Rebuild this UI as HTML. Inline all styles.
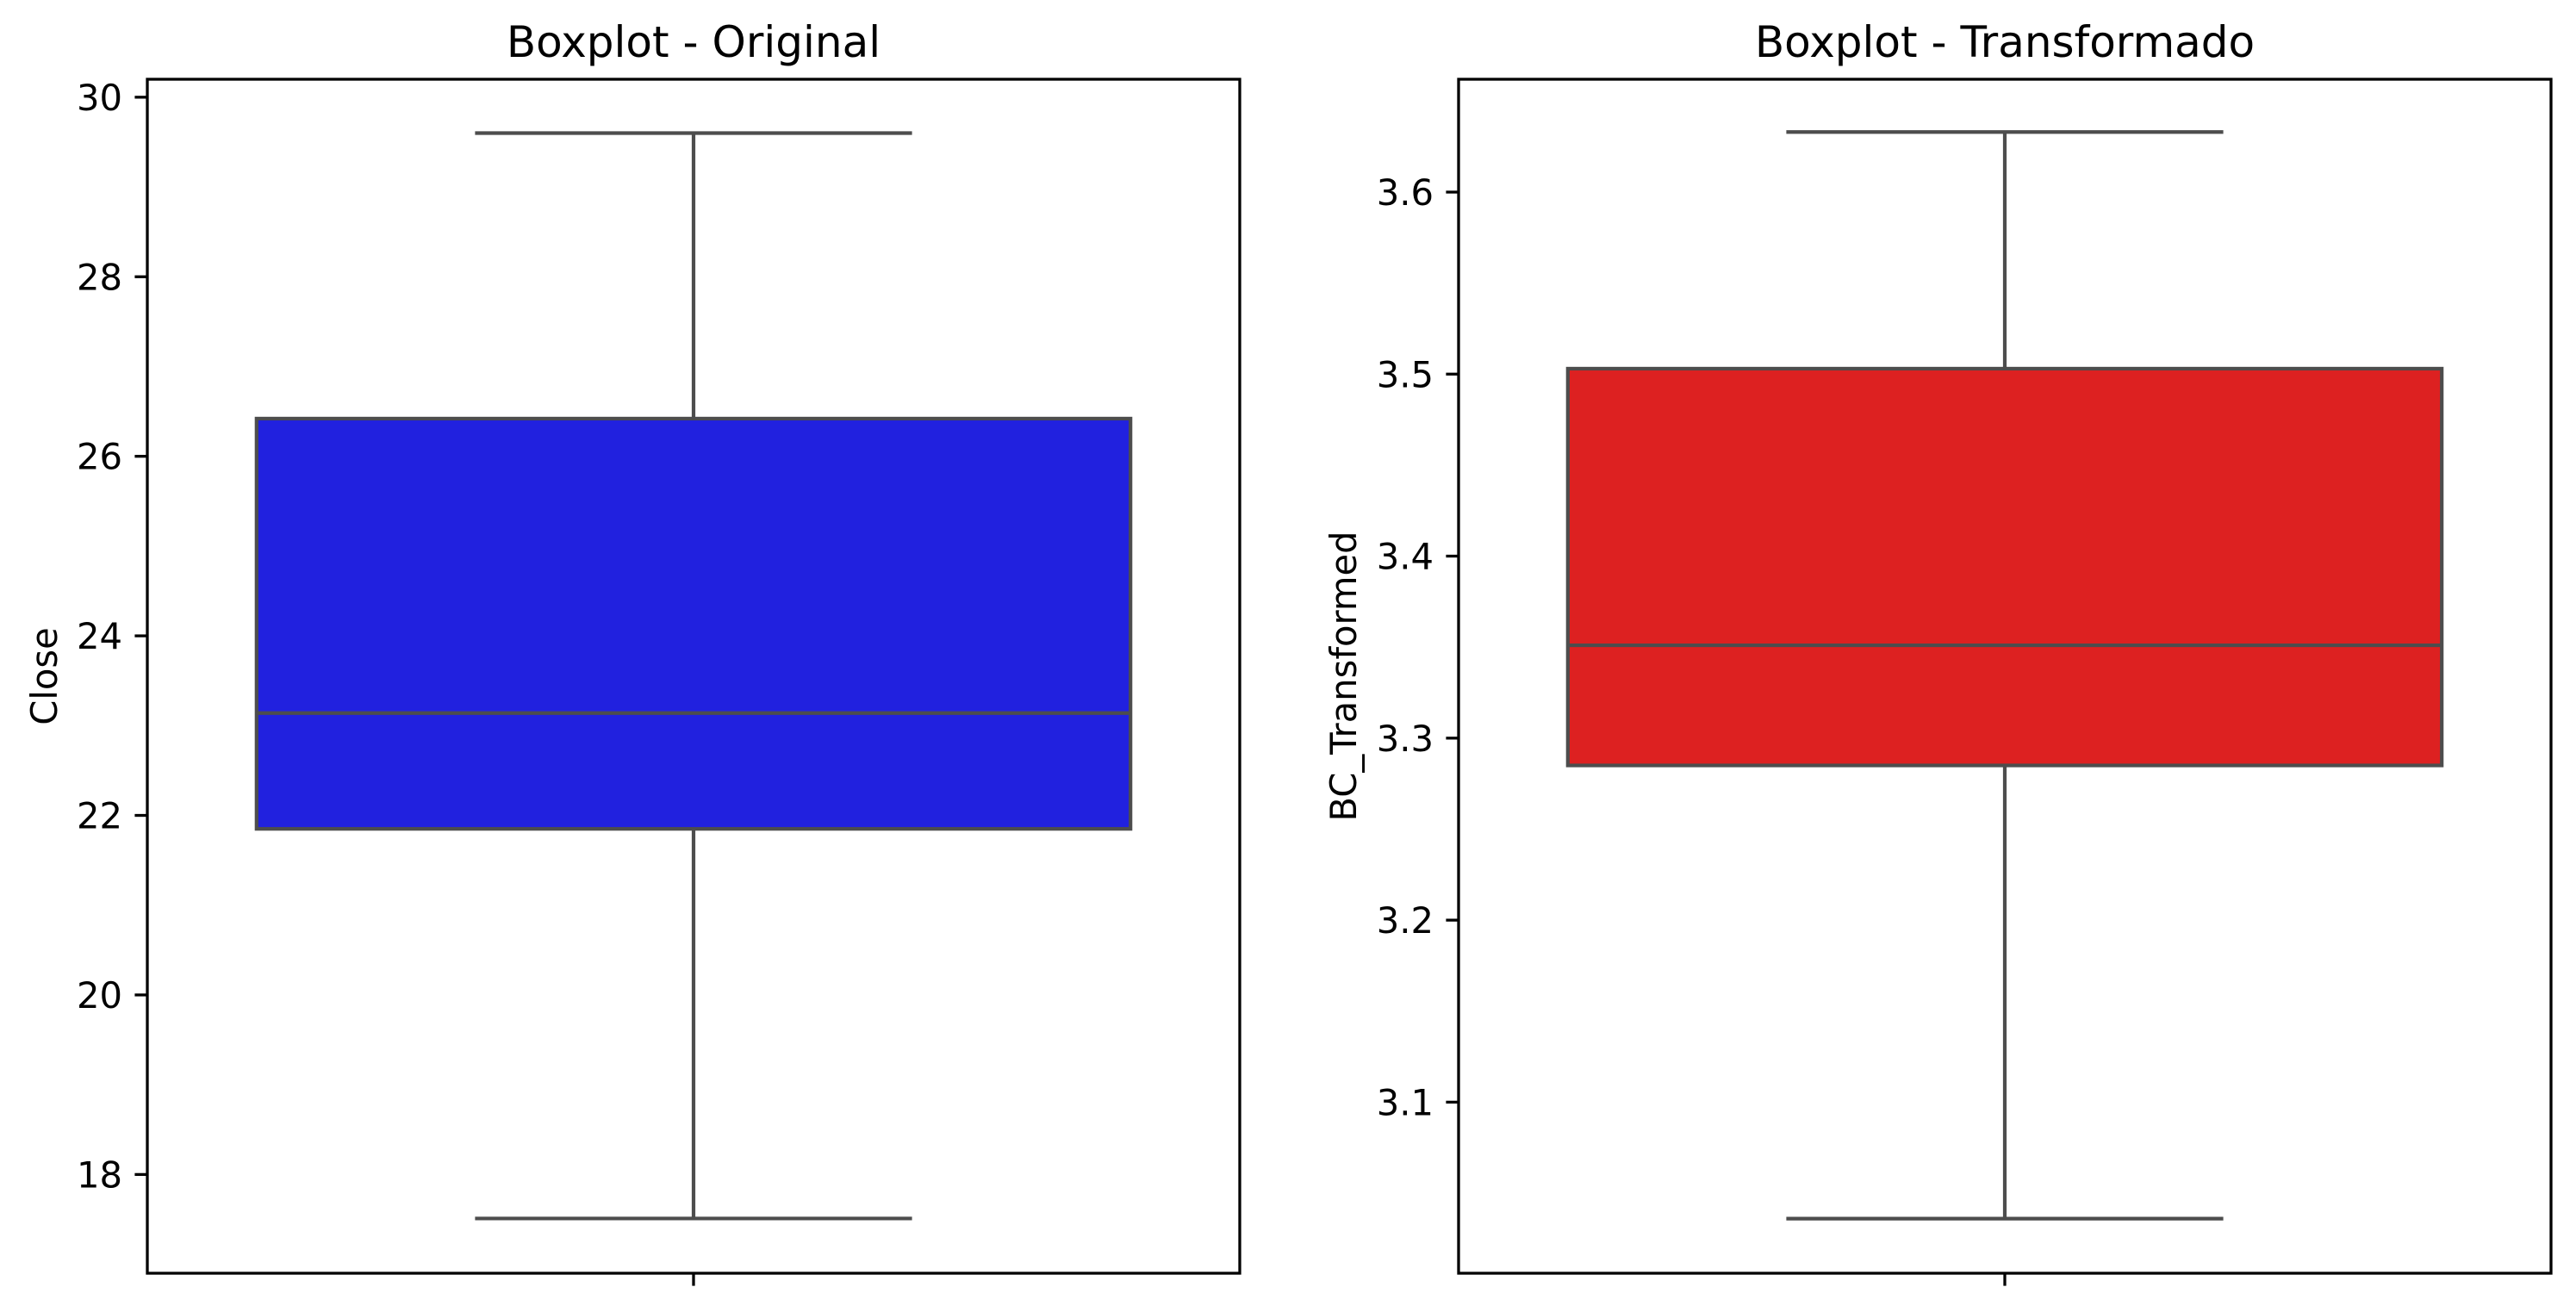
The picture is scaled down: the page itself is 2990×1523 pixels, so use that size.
<!DOCTYPE html>
<html><head><meta charset="utf-8"><style>
html,body{margin:0;padding:0;background:#fff;}
svg{display:block;}
text{font-family:"DejaVu Sans","Liberation Sans",sans-serif;fill:#000;}
</style></head><body>
<svg id="fig" width="2990" height="1523" viewBox="0 0 2990 1523" xmlns="http://www.w3.org/2000/svg"></svg>
<script>
const titles = ["Boxplot - Original", "Boxplot - Transformado"];
const yLabels = ["Close", "BC_Transformed"];
const whiskerLow = [17.51, 3.036];
const q1Values = [21.85, 3.285];
const medianValues = [23.14, 3.351];
const q3Values = [26.42, 3.503];
const whiskerHigh = [29.60, 3.633];
const yMin = [16.90, 3.006];
const yMax = [30.20, 3.662];
const tickValues = [[18, 20, 22, 24, 26, 28, 30], [3.1, 3.2, 3.3, 3.4, 3.5, 3.6]];
const tickLabels = [["18","20","22","24","26","28","30"], ["3.1","3.2","3.3","3.4","3.5","3.6"]];
const fills = ["#2121df", "#dd2121"];

const NS = "http://www.w3.org/2000/svg";
const svg = document.getElementById("fig");
const axLeft = [171, 1693], axW = 1268, axTop = 92, axBot = 1478;
function mk(tag, attrs, parent, name) {
  const e = document.createElementNS(NS, tag);
  for (const k in attrs) e.setAttribute(k, attrs[k]);
  
  
  (parent || svg).appendChild(e);
  return e;
}
for (let i = 0; i < 2; i++) {
  const g = mk('g', {}, svg, i === 0 ? 'panel-original' : 'panel-transformed');
  const L = axLeft[i];
  const yS = v => axBot - (v - yMin[i]) / (yMax[i] - yMin[i]) * (axBot - axTop);
  const xS = v => L + (v + 0.5) * axW;
  const cx = xS(0);
  const gray = "#4d4d4d", lw = 4.2;
  mk('line', {x1: cx, x2: cx, y1: yS(q3Values[i]), y2: yS(whiskerHigh[i]), stroke: gray, 'stroke-width': lw}, g, 'upper-whisker');
  mk('line', {x1: cx, x2: cx, y1: yS(q1Values[i]), y2: yS(whiskerLow[i]), stroke: gray, 'stroke-width': lw}, g, 'lower-whisker');
  mk('line', {x1: xS(-0.2), x2: xS(0.2), y1: yS(whiskerHigh[i]), y2: yS(whiskerHigh[i]), stroke: gray, 'stroke-width': lw}, g, 'upper-cap');
  mk('line', {x1: xS(-0.2), x2: xS(0.2), y1: yS(whiskerLow[i]), y2: yS(whiskerLow[i]), stroke: gray, 'stroke-width': lw}, g, 'lower-cap');
  mk('rect', {x: xS(-0.4), y: yS(q3Values[i]), width: xS(0.4) - xS(-0.4), height: yS(q1Values[i]) - yS(q3Values[i]), fill: fills[i], stroke: gray, 'stroke-width': lw}, g, 'box');
  mk('line', {x1: xS(-0.4), x2: xS(0.4), y1: yS(medianValues[i]), y2: yS(medianValues[i]), stroke: gray, 'stroke-width': lw}, g, 'median-line');
  mk('rect', {x: L, y: axTop, width: axW, height: axBot - axTop, fill: 'none', stroke: '#000', 'stroke-width': 3.3}, g, 'axes-frame');
  tickValues[i].forEach((v, k) => {
    const y = yS(v);
    mk('line', {x1: L - 14.6, x2: L, y1: y, y2: y, stroke: '#000', 'stroke-width': 3.3}, g, 'y-tick');
    const t = mk('text', {x: L - 29, y: y + 15, 'text-anchor': 'end', 'font-size': 41.7}, g, 'y-tick-label');
    t.textContent = tickLabels[i][k];
  });
  mk('line', {x1: cx, x2: cx, y1: axBot, y2: axBot + 14.6, stroke: '#000', 'stroke-width': 3.3}, g, 'x-tick');
  const tt = mk('text', {x: L + axW / 2, y: 66, 'text-anchor': 'middle', 'font-size': 50}, g, 'chart-title');
  tt.textContent = titles[i];
  const lx = i === 0 ? 66 : 1574;
  const yl = mk('text', {x: lx, y: (axTop + axBot) / 2, 'text-anchor': 'middle', 'font-size': 41.7, transform: `rotate(-90 ${lx} ${(axTop + axBot) / 2})`}, g, 'y-axis-title');
  yl.textContent = yLabels[i];
}
</script>
</body></html>
